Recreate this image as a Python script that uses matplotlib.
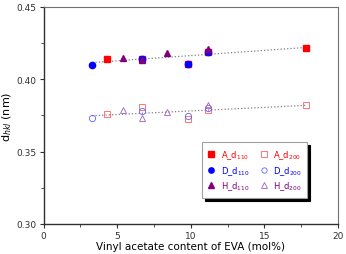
import numpy as np
import matplotlib.pyplot as plt

# d110 (filled) and d200 (open) spacing vs vinyl acetate content
x_a = [4.3, 6.7, 9.8, 11.2, 17.8]
a_d110 = [0.4142, 0.4140, 0.4105, 0.4190, 0.4219]
a_d200 = [0.3757, 0.3806, 0.3722, 0.3790, 0.3824]

x_d = [3.3, 6.7, 9.8, 11.2]
d_d110 = [0.4100, 0.4142, 0.4105, 0.4188]
d_d200 = [0.3732, 0.3780, 0.3746, 0.3800]

x_h = [5.4, 6.7, 8.4, 11.2]
h_d110 = [0.4146, 0.4130, 0.4183, 0.4210]
h_d200 = [0.3785, 0.3730, 0.3774, 0.3820]

red = '#ff0000'
blue = '#0000ff'
purple = '#800080'

fig = plt.figure(figsize=(3.46, 2.55), dpi=100)
ax = fig.add_axes([0.126, 0.118, 0.851, 0.851])

# dotted trend lines
for xs, ys in [((x_a, x_d, x_h), (a_d110, d_d110, h_d110)),
               ((x_a, x_d, x_h), (a_d200, d_d200, h_d200))]:
    xx = np.concatenate(xs)
    yy = np.concatenate(ys)
    p = np.polyfit(xx, yy, 1)
    xl = np.array([xx.min(), xx.max()])
    ax.plot(xl, np.polyval(p, xl), ':', color='#808080', lw=0.9, zorder=1)

ms = 4.5
ax.plot(x_a, a_d110, 's', color=red, ms=ms, ls='none', label='A_d$_{110}$')
ax.plot(x_d, d_d110, 'o', color=blue, ms=ms, ls='none', label='D_d$_{110}$')
ax.plot(x_h, h_d110, '^', color=purple, ms=ms, ls='none', label='H_d$_{110}$')
ax.plot(x_a, a_d200, 's', mfc='none', mec='#ff6060', mew=0.6, ms=ms,
        ls='none', label='A_d$_{200}$')
ax.plot(x_d, d_d200, 'o', mfc='none', mec='#6060ff', mew=0.6, ms=ms,
        ls='none', label='D_d$_{200}$')
ax.plot(x_h, h_d200, '^', mfc='none', mec='#a060c0', mew=0.6, ms=ms,
        ls='none', label='H_d$_{200}$')

ax.set_xlim(0, 20)
ax.set_ylim(0.30, 0.45)
ax.set_xticks([0, 5, 10, 15, 20])
ax.set_xticks([2.5, 7.5, 12.5, 17.5], minor=True)
ax.set_yticks([0.30, 0.35, 0.40, 0.45])
ax.set_yticks([0.325, 0.375, 0.425], minor=True)
ax.yaxis.set_major_formatter(plt.FormatStrFormatter('%.2f'))
ax.tick_params(which='both', direction='out', labelsize=6.5, colors='#303030',
               top=False, right=False, pad=2)
ax.tick_params(which='major', length=3, width=0.8)
ax.tick_params(which='minor', length=2, width=0.6)
for s in ['left', 'bottom']:
    ax.spines[s].set_linewidth(1.0)
    ax.spines[s].set_color('#303030')
for s in ['top', 'right']:
    ax.spines[s].set_linewidth(0.8)
    ax.spines[s].set_color('#707070')

ax.set_xlabel('Vinyl acetate content of EVA (mol%)', fontsize=7.5, labelpad=1)
ax.set_ylabel('d$_{hkl}$ (nm)', fontsize=8, labelpad=2)

leg = ax.legend(ncol=2, fontsize=6, loc='lower right',
                bbox_to_anchor=(0.91, 0.1), frameon=True, fancybox=False,
                shadow={'color': 'black', 'alpha': 1}, edgecolor='#a0a0a0',
                handletextpad=0.7, columnspacing=1.3, handlelength=0.8,
                borderpad=0.7, labelspacing=0.35, markerscale=0.85)
leg.get_frame().set_linewidth(0.8)
for t, c in zip(leg.get_texts(), [red, blue, purple, red, blue, purple]):
    t.set_color(c)

fig.savefig('out.png', dpi=100)
